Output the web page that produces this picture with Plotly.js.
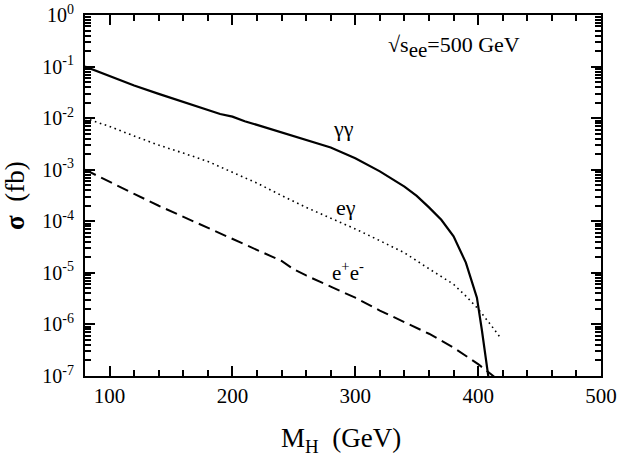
<!DOCTYPE html>
<html>
<head>
<meta charset="utf-8">
<script src="https://cdn.plot.ly/plotly-3.0.1.min.js"></script>
<style>
  html, body { margin: 0; padding: 0; background: #fff; }
  #plot { width: 623px; height: 473px; }
</style>
</head>
<body>
<div id="plot"></div>
<script>
// Higgs production cross sections at a 500 GeV collider.

const massGG = [80, 100, 120, 140, 160, 170, 180, 190, 200, 210, 220, 240, 260, 280,
  300, 320, 340, 350, 360, 370, 380, 390, 395, 399, 403, 407, 410];
const sigmaGG = [1.0e-1, 6.5e-2, 4.3e-2, 2.95e-2, 2.04e-2, 1.70e-2, 1.45e-2, 1.2e-2,
  1.07e-2, 8.7e-3, 7.4e-3, 5.25e-3, 3.8e-3, 2.69e-3, 1.66e-3, 9.3e-4, 4.7e-4, 3.1e-4,
  1.86e-4, 1.07e-4, 5.1e-5, 1.58e-5, 6.6e-6, 3.3e-6, 7.9e-7, 1.38e-7, 5e-8];

const massEG = [80, 100, 120, 140, 160, 180, 200, 220, 240, 260, 280, 300, 320, 340,
  360, 380, 390, 400, 410, 418];
const sigmaEG = [1.0e-2, 6.9e-3, 4.5e-3, 3.0e-3, 2.1e-3, 1.45e-3, 8.9e-4, 5.5e-4,
  3.16e-4, 1.86e-4, 1.15e-4, 7.1e-5, 4.2e-5, 2.45e-5, 1.2e-5, 6.0e-6, 3.55e-6,
  2.0e-6, 1.0e-6, 5.6e-7];

const massEE = [80, 100, 120, 140, 160, 180, 200, 220, 240, 250, 260, 280, 300, 320,
  340, 360, 380, 400, 415];
const sigmaEE = [1.0e-3, 5.75e-4, 3.4e-4, 2.0e-4, 1.23e-4, 7.4e-5, 4.6e-5, 2.8e-5,
  1.7e-5, 1.17e-5, 8.9e-6, 5.4e-6, 3.3e-6, 1.86e-6, 1.12e-6, 6.6e-7, 3.55e-7,
  1.7e-7, 8.9e-8];

const yTickVals = [1e-7, 1e-6, 1e-5, 1e-4, 1e-3, 1e-2, 1e-1, 1];
// trailing no-break space keeps the labels a little off the axis line
const yTickText = ["10<sup>-7</sup>\u00a0", "10<sup>-6</sup>\u00a0", "10<sup>-5</sup>\u00a0",
  "10<sup>-4</sup>\u00a0", "10<sup>-3</sup>\u00a0", "10<sup>-2</sup>\u00a0",
  "10<sup>-1</sup>\u00a0", "10<sup>0</sup>\u00a0"];

// minor ticks at 2..9 inside each decade, drawn by an overlaid tick-only axis
const yMinorVals = [];
yTickVals.slice(0, -1).forEach((dec) => {
  for (let m = 2; m <= 9; m++) yMinorVals.push(m * dec);
});

const SERIF = "'Liberation Serif', 'Times New Roman', serif";

// plot area in pixels of the reference
const PL = 85, PR = 601, PT = 15, PB = 376;

const traces = [
  {
    x: massGG, y: sigmaGG, type: "scatter", mode: "lines",
    line: { color: "#000", width: 2.2 }, hoverinfo: "skip",
  },
  {
    x: massEG, y: sigmaEG, type: "scatter", mode: "lines",
    line: { color: "#000", width: 1.6, dash: "1.6px,3.6px" }, hoverinfo: "skip",
  },
  {
    x: massEE, y: sigmaEE, type: "scatter", mode: "lines",
    line: { color: "#000", width: 2, dash: "12px,6px" }, hoverinfo: "skip",
  },
  // invisible point off-range so the minor-tick axes get a subplot
  { x: [80], y: [1e-9], type: "scatter", mode: "markers", xaxis: "x2", yaxis: "y2",
    marker: { opacity: 0 }, hoverinfo: "skip" },
];

const layout = {
  width: 623, height: 473,
  margin: { l: PL, r: 623 - PR, t: PT, b: 473 - PB, pad: 0 },
  paper_bgcolor: "#fff", plot_bgcolor: "#fff",
  showlegend: false,
  font: { family: SERIF, color: "#000", size: 21 },
  xaxis: {
    range: [80, 500], tickmode: "linear", tick0: 100, dtick: 100,
    ticks: "inside", ticklen: 10, tickwidth: 2, tickcolor: "black",
    showline: true, linewidth: 2, linecolor: "#000", mirror: "allticks",
    showgrid: false, zeroline: false,
    tickfont: { family: SERIF, size: 21 },
  },
  yaxis: {
    type: "log", range: [-7, 0], tickmode: "array",
    tickvals: yTickVals, ticktext: yTickText,
    ticks: "inside", ticklen: 10, tickwidth: 2, tickcolor: "black",
    showline: true, linewidth: 2, linecolor: "#000", mirror: "allticks",
    showgrid: false, zeroline: false,
    tickfont: { family: SERIF, size: 20 },
  },
  xaxis2: {
    overlaying: "x", anchor: "y2", side: "bottom",
    range: [80, 500], tickmode: "linear", tick0: 0, dtick: 20,
    ticks: "inside", ticklen: 6, tickwidth: 2, tickcolor: "black",
    showline: false, mirror: "allticks", showgrid: false, zeroline: false,
    showticklabels: false,
  },
  yaxis2: {
    overlaying: "y", anchor: "x2", side: "left",
    type: "log", range: [-7, 0], tickmode: "array", tickvals: yMinorVals,
    ticks: "inside", ticklen: 6, tickwidth: 2, tickcolor: "black",
    showline: false, mirror: "allticks", showgrid: false, zeroline: false,
    showticklabels: false,
  },
  annotations: [
    { text: "√s<sub><span style=\"font-size:21px\">ee</span></sub>=500 GeV", x: 454, y: 47, size: 22 },
    { text: "γγ", x: 343, y: 128, size: 22 },
    { text: "eγ", x: 346, y: 207, size: 22 },
    { text: "e<sup>+</sup>e<sup>-</sup>", x: 348, y: 271 },
    { text: "M<sub>H</sub>\u00a0\u00a0(GeV)", x: 341, y: 440, size: 27 },
    { text: "<b>σ</b>\u00a0\u00a0(fb)", x: 15, y: 196, size: 27, rot: -90 },
  ].map((a) => ({
    text: a.text,
    // pixel positions of the reference converted to plot-area fractions
    x: (a.x - PL) / (PR - PL), y: (PB - a.y) / (PB - PT),
    xref: "paper", yref: "paper", xanchor: "center", yanchor: "middle",
    showarrow: false, textangle: a.rot || 0,
    font: { family: SERIF, size: a.size || 21, color: "#000" },
  })),
};

Plotly.newPlot("plot", traces, layout, { displayModeBar: false });
</script>
</body>
</html>
